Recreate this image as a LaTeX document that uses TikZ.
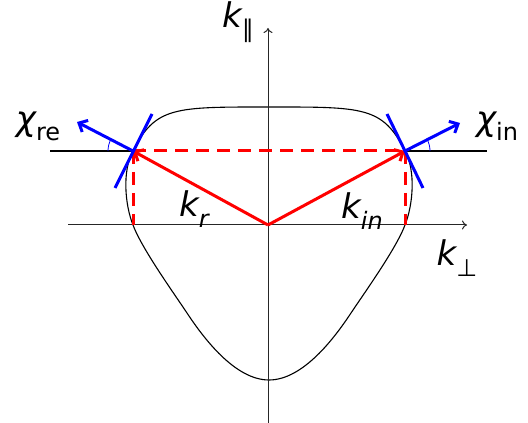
\documentclass[tikz,border=0pt]{standalone}
\usepackage{fontspec}
\setmainfont{DejaVu Sans}
\usetikzlibrary{arrows.meta,calc}
\newcommand\subtxt[1]{\raisebox{-0.3em}{\fontsize{24}{24}\selectfont #1}}

\begin{document}
\begin{tikzpicture}[
  x=1pt, y=1pt,
  font=\fontsize{34}{38}\selectfont,
  ax/.style={-{To[length=5pt,width=9pt]}, line width=1pt, black!85},
  fermi/.style={line width=1.1pt},
  kvec/.style={-{Straight Barb[length=7pt,width=13pt]}, line width=3pt, red},
  proj/.style={red, line width=3pt, dash pattern=on 13pt off 8pt},
  tang/.style={blue, line width=3pt},
  vel/.style={-{Straight Barb[length=7pt,width=13pt]}, line width=3pt, blue},
  lbl/.style={inner sep=0pt}
]
\useasboundingbox (0,0) rectangle (528,423);
% punkte
\coordinate (O) at (268,198);
\coordinate (R) at (133,272);
\coordinate (I) at (405,272);
\coordinate (Rx) at (133,198);
\coordinate (Ix) at (405,198);
% fermi-flaeche
\draw[fermi] (269,316) .. controls (175,316) and (155.4,316.7) .. (R)
  .. controls (122,252) and (125,218) .. (Rx)
  .. controls (141.8,174.5) and (173,131) .. (187,110)
  .. controls (203.5,85) and (235,43) .. (269,43)
  .. controls (303,43) and (334.5,85) .. (351,110)
  .. controls (365,131) and (396.2,174.5) .. (Ix)
  .. controls (413,218) and (416,252) .. (I)
  .. controls (382.6,316.7) and (363,316) .. (269,316) -- cycle;
% achsen
\coordinate (xl) at (68,198);
\coordinate (xr) at (467,198);
\coordinate (yb) at (268,0);
\coordinate (yt) at (268,395);
\draw[ax] (xl) -- (xr);
\draw[ax] (yb) -- (yt);
\node[lbl] (kpar) at (238,401) {\itshape k\subtxt{∥}};
\node[lbl] (kperp) at (457,165) {\itshape k\subtxt{⊥}};
% hilfslinien
\coordinate (hl) at (50,272);
\coordinate (hr) at (487,272);
\draw[line width=1.1pt] (hl) -- (R);
\draw[line width=1.1pt] (I) -- (hr);
% projektionen
\draw[proj] (R) -- (I);
\draw[proj] (R) -- (Rx);
\draw[proj] (I) -- (Ix);
% wellenvektoren
\draw[kvec] (O) -- (R);
\draw[kvec] (O) -- (I);
\node[lbl] (kr) at (194,214) {\itshape k\subtxt{r}};
\node[lbl] (kin) at (362,212) {\itshape k\subtxt{in}};
% tangenten und geschwindigkeiten
\coordinate (tl1) at (115,235);
\coordinate (tl2) at (152,309);
\coordinate (tr1) at (387,309);
\coordinate (tr2) at (423,235);
\coordinate (vl) at (77,301);
\coordinate (vr) at (460,300);
\draw[tang] (tl1) -- (tl2);
\draw[tang] (tr1) -- (tr2);
\draw[vel] (R) -- (vl);
\draw[vel] (I) -- (vr);
\draw[blue, line width=0.8pt] ($(R)+(-25,0)$) arc[start angle=180, end angle=152.6, radius=25];
\draw[blue, line width=0.8pt] ($(I)+(25,0)$) arc[start angle=0, end angle=27, radius=25];
\node[lbl] (chire) at (38,297) {\itshape χ\upshape\subtxt{re}};
\node[lbl] (chiin) at (497,297) {\itshape χ\upshape\subtxt{in}};
\end{tikzpicture}
\end{document}
